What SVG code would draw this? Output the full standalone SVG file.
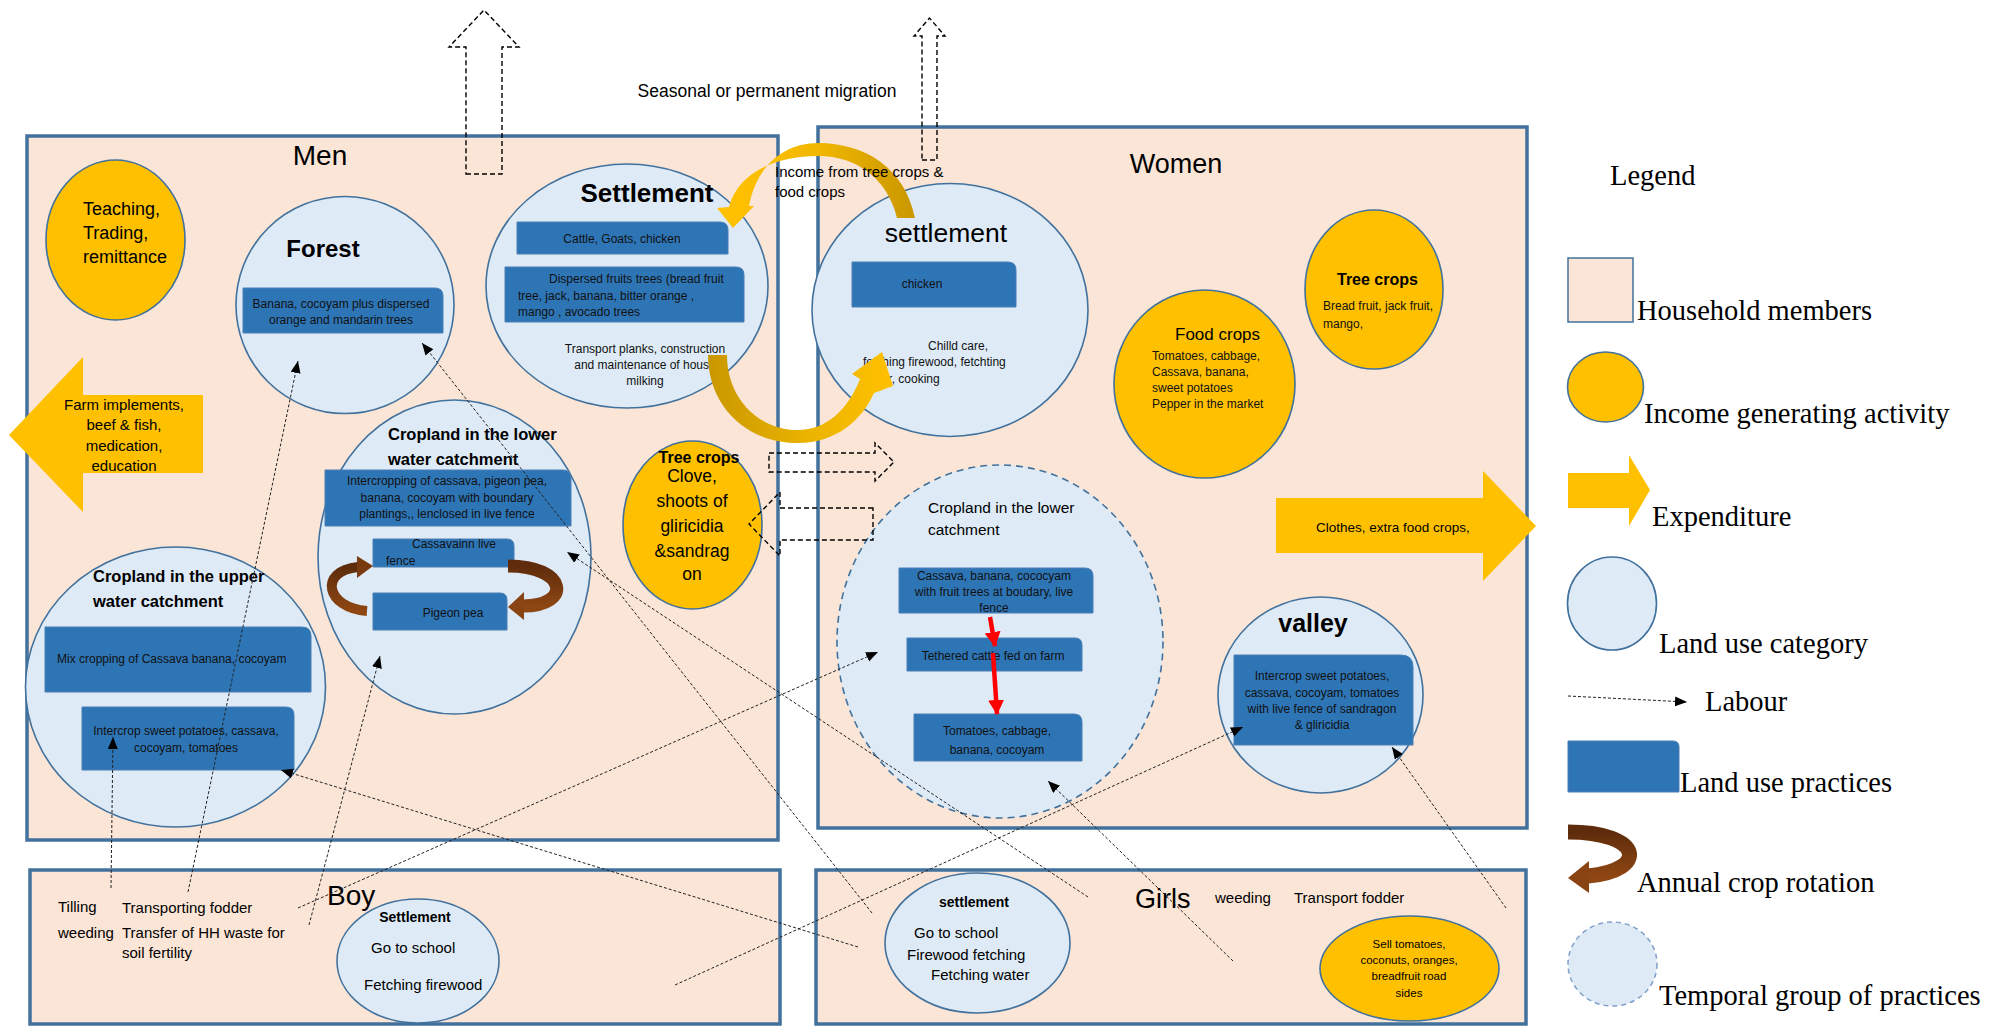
<svg xmlns="http://www.w3.org/2000/svg" width="2013" height="1027" viewBox="0 0 2013 1027">
<defs>
<style>
.box{fill:#FBE5D6;stroke:#41719C;stroke-width:3.5}
.luc{fill:#DEEBF7;stroke:#41719C;stroke-width:1.6}
.tmp{fill:#DEEBF7;stroke:#41719C;stroke-width:1.6;stroke-dasharray:7,5}
.inc{fill:#FFC000;stroke:#41719C;stroke-width:1.6}
.exp{fill:#FFC000}
.pr{fill:#2E75B6;stroke:#4A7FB5;stroke-width:1}
.mig{fill:none;stroke:#000;stroke-width:1.4;stroke-dasharray:5,3}
.lab{fill:none;stroke:#222;stroke-width:1;stroke-dasharray:3,2}
.red{stroke:#FF0000;stroke-width:4.5;fill:none}
text{font-family:"Liberation Sans",Arial,sans-serif;fill:#000}
.s{font-size:12px;fill:#111}
.b{font-weight:bold}
.lg{font-family:"Liberation Serif","Times New Roman",serif;font-size:28.5px}
.m{text-anchor:middle}
</style>
<linearGradient id="goldA" gradientUnits="userSpaceOnUse" x1="733" y1="0" x2="915" y2="0">
<stop offset="0" stop-color="#FFC000"/><stop offset="0.45" stop-color="#F2B800"/><stop offset="1" stop-color="#C99700"/>
</linearGradient>
<linearGradient id="goldB" gradientUnits="userSpaceOnUse" x1="708" y1="0" x2="893" y2="0">
<stop offset="0" stop-color="#C99700"/><stop offset="0.55" stop-color="#EBB400"/><stop offset="1" stop-color="#FFC000"/>
</linearGradient>
<linearGradient id="brown" x1="0" y1="0" x2="0" y2="1">
<stop offset="0" stop-color="#5E2C0C"/><stop offset="1" stop-color="#8E4612"/>
</linearGradient>
<marker id="ah" markerUnits="userSpaceOnUse" markerWidth="14" markerHeight="12" refX="12" refY="5" orient="auto">
<path d="M0,0 L12,5 L0,10 Z" fill="#000"/>
</marker>
<marker id="rh" markerUnits="userSpaceOnUse" markerWidth="18" markerHeight="18" refX="14" refY="8" orient="auto">
<path d="M0,0 L15,8 L0,16 Z" fill="#FF0000"/>
</marker>
</defs>

<rect width="2013" height="1027" fill="#fff"/>

<!-- household boxes -->
<g id="men">
<rect class="box" x="27" y="136" width="751" height="704"/>
<text x="320" y="165" class="m" font-size="28">Men</text>
</g>
<g id="women">
<rect class="box" x="818" y="127" width="709" height="701"/>
<text x="1176" y="173" class="m" font-size="27">Women</text>
</g>
<g id="boy">
<rect class="box" x="30" y="870" width="750" height="154"/>
<text x="327" y="905" font-size="28">Boy</text>
<text x="58" y="912" font-size="15">Tilling</text>
<text x="122" y="913" font-size="15">Transporting fodder</text>
<text x="58" y="938" font-size="15">weeding</text>
<text x="122" y="938" font-size="15">Transfer of HH waste for</text>
<text x="122" y="958" font-size="15">soil fertility</text>
</g>
<g id="girls">
<rect class="box" x="816" y="870" width="710" height="154"/>
<text x="1135" y="908" font-size="27">Girls</text>
<text x="1215" y="903" font-size="15">weeding</text>
<text x="1294" y="903" font-size="15">Transport fodder</text>
</g>

<!-- migration arrows -->
<g id="migration">
<polygon class="mig" points="466,174 502,174 502,47 519,47 484,10 449,47 466,47"/>
<polygon class="mig" points="922,160 937,160 937,36 945,36 929.5,18 914,36 922,36"/>
<text x="767" y="97" class="m" font-size="17.5">Seasonal or permanent migration</text>
</g>

<!-- men nodes -->
<g id="men-income">
<ellipse class="inc" cx="115.5" cy="240" rx="69.5" ry="80"/>
<text x="83" y="215" font-size="18">Teaching,</text>
<text x="83" y="239" font-size="18">Trading,</text>
<text x="83" y="263" font-size="18">remittance</text>
</g>
<g id="men-expenditure">
<polygon class="exp" points="203,395 83,395 83,357 9,435 83,512 83,473 203,473"/>
<text class="m" x="124" y="410" font-size="15">Farm implements,</text>
<text class="m" x="124" y="430" font-size="15">beef &amp; fish,</text>
<text class="m" x="124" y="451" font-size="15">medication,</text>
<text class="m" x="124" y="471" font-size="15">education</text>
</g>
<g id="forest">
<ellipse class="luc" cx="345" cy="305" rx="109" ry="108.5"/>
<text x="323" y="257" class="m b" font-size="24">Forest</text>
<path class="pr" d="M243,288 H435 Q443,288 443,296 V333 H243 Z"/>
<text class="s m" x="341" y="308" font-size="11.5">Banana, cocoyam plus dispersed</text>
<text class="s m" x="341" y="324" font-size="11.5">orange and mandarin  trees</text>
</g>
<g id="men-settlement">
<ellipse class="luc" cx="627" cy="286" rx="141" ry="122"/>
<text x="647" y="202" class="m b" font-size="26">Settlement</text>
<path class="pr" d="M517,222 H720 Q728,222 728,230 V254 H517 Z"/>
<text class="s m" x="622" y="243">Cattle,  Goats, chicken</text>
<path class="pr" d="M505,267 H736 Q744,267 744,275 V322 H505 Z"/>
<text class="s" x="549" y="283">Dispersed fruits trees (bread fruit</text>
<text class="s" x="518" y="300">tree, jack, banana, bitter orange ,</text>
<text class="s" x="518" y="316">mango , avocado trees</text>
<text class="s m" x="645" y="353">Transport planks, construction</text>
<text class="s m" x="645" y="369">and maintenance of house</text>
<text class="s m" x="645" y="385">milking</text>
</g>
<g id="men-lower-cropland">
<ellipse class="luc" cx="454.5" cy="557" rx="136.5" ry="157"/>
<text x="388" y="440" class="b" font-size="16.5">Cropland in the lower</text>
<text x="388" y="465" class="b" font-size="16.5">water catchment</text>
<path class="pr" d="M325,470 H563 Q571,470 571,478 V526 H325 Z"/>
<text class="s m" x="447" y="485" font-size="11.8">Intercropping of cassava, pigeon pea,</text>
<text class="s m" x="447" y="502" font-size="11.8">banana, cocoyam with boundary</text>
<text class="s m" x="447" y="518" font-size="11.8">plantings,, lenclosed in live fence</text>
<path class="pr" d="M373,539 H507 Q514,539 514,546 V567 H373 Z"/>
<text class="s" x="412" y="548">Cassavainn live</text>
<text class="s" x="386" y="565">fence</text>
<path class="pr" d="M373,593 H500 Q507,593 507,600 V630 H373 Z"/>
<text class="s m" x="453" y="617" font-size="12.5">Pigeon pea</text>
<path d="M367,611 C326,608 318,571 358,567" fill="none" stroke="url(#brown)" stroke-width="10"/>
<polygon points="357,556 373,566 357,578" fill="#7A3A0F"/>
<path d="M508,566 C568,566 572,606 523,606" fill="none" stroke="url(#brown)" stroke-width="13"/>
<polygon points="524,592 508,607 524,620" fill="#8A4312"/>
</g>
<g id="men-tree-crops">
<ellipse class="inc" cx="692.5" cy="525" rx="69.5" ry="84"/>
<text x="699" y="463" class="m b" font-size="16">Tree crops</text>
<text x="692" y="482" class="m" font-size="17.5">Clove,</text>
<text x="692" y="507" class="m" font-size="17.5">shoots of</text>
<text x="692" y="532" class="m" font-size="17.5">gliricidia</text>
<text x="692" y="557" class="m" font-size="17.5">&amp;sandrag</text>
<text x="692" y="580" class="m" font-size="17.5">on</text>
</g>
<g id="men-upper-cropland">
<ellipse class="luc" cx="175.5" cy="687" rx="150" ry="140"/>
<text x="93" y="582" class="b" font-size="16.5">Cropland in the upper</text>
<text x="93" y="607" class="b" font-size="16.5">water catchment</text>
<path class="pr" d="M45,627 H302 Q311,627 311,636 V692 H45 Z"/>
<text class="s" x="57" y="663">Mix cropping of Cassava banana,  cocoyam</text>
<path class="pr" d="M82,707 H286 Q294,707 294,715 V770 H82 Z"/>
<text class="s m" x="186" y="735">Intercrop sweet potatoes, cassava,</text>
<text class="s m" x="186" y="752">cocoyam, tomatoes</text>
</g>

<!-- women nodes -->
<g id="women-settlement">
<ellipse class="luc" cx="950" cy="310" rx="138" ry="126.5"/>
<text x="946" y="242" class="m" font-size="26.5">settlement</text>
<path class="pr" d="M852,262 H1008 Q1016,262 1016,270 V307 H852 Z"/>
<text class="s m" x="922" y="288">chicken</text>
<text class="s" x="928" y="350">Chilld care,</text>
<text class="s" x="863" y="366">fetching firewood, fetchting</text>
<text class="s" x="863" y="383">water, cooking</text>
</g>
<g id="women-food-crops">
<ellipse class="inc" cx="1204.5" cy="384" rx="90.5" ry="94"/>
<text x="1175" y="340" font-size="17">Food crops</text>
<text class="s" x="1152" y="360">Tomatoes, cabbage,</text>
<text class="s" x="1152" y="376">Cassava, banana,</text>
<text class="s" x="1152" y="392">sweet potatoes</text>
<text class="s" x="1152" y="408">Pepper  in the market</text>
</g>
<g id="women-tree-crops">
<ellipse class="inc" cx="1374" cy="289.5" rx="69" ry="79.5"/>
<text x="1337" y="285" class="b" font-size="16">Tree crops</text>
<text class="s" x="1323" y="310">Bread fruit, jack fruit,</text>
<text class="s" x="1323" y="328">mango,</text>
</g>
<g id="women-expenditure">
<polygon class="exp" points="1276,498 1483,498 1483,471 1536,526 1483,581 1483,553 1276,553"/>
<text x="1316" y="532" font-size="13.5">Clothes, extra food crops,</text>
</g>
<g id="women-lower-cropland">
<ellipse class="tmp" cx="1000" cy="641.5" rx="163" ry="176.5"/>
<text x="928" y="513" font-size="15.5">Cropland in the lower</text>
<text x="928" y="535" font-size="15.5">catchment</text>
<path class="pr" d="M899,568 H1085 Q1093,568 1093,576 V613 H899 Z"/>
<text class="s m" x="994" y="580" font-size="11.5">Cassava, banana, cococyam</text>
<text class="s m" x="994" y="596" font-size="11.5">with fruit trees at boudary, live</text>
<text class="s m" x="994" y="612" font-size="11.5">fence</text>
<path class="pr" d="M907,638 H1075 Q1082,638 1082,645 V671 H907 Z"/>
<text class="s m" x="993" y="660">Tethered cattle fed on farm</text>
<path class="pr" d="M914,714 H1074 Q1082,714 1082,722 V761 H914 Z"/>
<text class="s m" x="997" y="735">Tomatoes, cabbage,</text>
<text class="s m" x="997" y="754">banana, cocoyam</text>
<line class="red" x1="990" y1="617" x2="995" y2="646" marker-end="url(#rh)"/>
<line class="red" x1="993" y1="653" x2="997" y2="714" marker-end="url(#rh)"/>
</g>
<g id="valley">
<ellipse class="luc" cx="1320.5" cy="695" rx="102.5" ry="98"/>
<text x="1313" y="632" class="m b" font-size="25">valley</text>
<path class="pr" d="M1234,655 H1401 Q1413,655 1413,667 V745 H1234 Z"/>
<text class="s m" x="1322" y="680" font-size="11.5">Intercrop sweet potatoes,</text>
<text class="s m" x="1322" y="697" font-size="11.5">cassava, cocoyam, tomatoes</text>
<text class="s m" x="1322" y="713" font-size="11.5">with live fence of sandragon</text>
<text class="s m" x="1322" y="729" font-size="11.5">&amp; gliricidia</text>
</g>

<!-- children nodes -->
<g id="boy-settlement">
<ellipse class="luc" cx="418" cy="961" rx="81" ry="62"/>
<text x="415" y="922" class="m b" font-size="14">Settlement</text>
<text x="371" y="953" font-size="15">Go to school</text>
<text x="364" y="990" font-size="15">Fetching firewood</text>
</g>
<g id="girls-settlement">
<ellipse class="luc" cx="977.5" cy="943" rx="92.5" ry="70"/>
<text x="974" y="907" class="m b" font-size="14">settlement</text>
<text x="914" y="938" font-size="15">Go to school</text>
<text x="907" y="960" font-size="15">Firewood fetching</text>
<text x="931" y="980" font-size="15">Fetching water</text>
</g>
<g id="girls-income">
<ellipse class="inc" cx="1409.5" cy="968.5" rx="89.5" ry="52.5"/>
<text class="m" x="1409" y="948" font-size="11.5">Sell tomatoes,</text>
<text class="m" x="1409" y="964" font-size="11.5">coconuts, oranges,</text>
<text class="m" x="1409" y="980" font-size="11.5">breadfruit road</text>
<text class="m" x="1409" y="997" font-size="11.5">sides</text>
</g>

<!-- connectors -->
<g id="connectors">
<path d="M915,218 C905,168 865,143 818,143 C782,143 756,168 749,206 L754,206 L733,228 L717,208 L729,207 C738,173 775,156 818,156 C858,156 888,180 897,218 Z" fill="url(#goldA)"/>
<text x="775" y="177" font-size="15">Income from tree crops &amp;</text>
<text x="775" y="197" font-size="15">food crops</text>
<path d="M708,355 C708,405 745,443 798,443 C836,443 862,420 874,393 L893,386 L882,352 L852,374 L860,379 C848,410 826,430 798,430 C760,430 727,400 727,355 Z" fill="url(#goldB)"/>
<polygon class="mig" points="769,453 875,453 875,443 894,462 875,481 875,472 769,472"/>
<polygon class="mig" points="873,508 780,508 780,492 749,524 780,556 780,540 873,540"/>
<line class="lab" x1="111" y1="888" x2="113" y2="737" marker-end="url(#ah)"/>
<line class="lab" x1="188" y1="892" x2="298" y2="361" marker-end="url(#ah)"/>
<line class="lab" x1="309" y1="925" x2="380" y2="656" marker-end="url(#ah)"/>
<line class="lab" x1="298" y1="908" x2="878" y2="652" marker-end="url(#ah)"/>
<line class="lab" x1="675" y1="985" x2="1243" y2="727" marker-end="url(#ah)"/>
<line class="lab" x1="858" y1="947" x2="281" y2="770" marker-end="url(#ah)"/>
<line class="lab" x1="872" y1="913" x2="422" y2="343" marker-end="url(#ah)"/>
<line class="lab" x1="1088" y1="897" x2="567" y2="552" marker-end="url(#ah)"/>
<line class="lab" x1="1233" y1="961" x2="1048" y2="781" marker-end="url(#ah)"/>
<line class="lab" x1="1506" y1="908" x2="1392" y2="747" marker-end="url(#ah)"/>
</g>

<!-- legend -->
<g id="legend">
<text x="1610" y="185" class="lg" font-size="25">Legend</text>
<rect x="1568" y="258" width="65" height="64" fill="#FBE5D6" stroke="#41719C" stroke-width="1.5"/>
<text x="1637" y="320" class="lg">Household members</text>
<ellipse class="inc" cx="1605.5" cy="387" rx="38" ry="35"/>
<text x="1644" y="423" class="lg">Income generating activity</text>
<polygon class="exp" points="1568,473 1629,473 1629,455 1650,490 1629,526 1629,508 1568,508"/>
<text x="1652" y="526" class="lg">Expenditure</text>
<ellipse class="luc" cx="1612" cy="603.5" rx="44.5" ry="46.5"/>
<text x="1659" y="653" class="lg">Land use category</text>
<line class="lab" x1="1568" y1="696" x2="1687" y2="702" marker-end="url(#ah)"/>
<text x="1705" y="711" class="lg">Labour</text>
<path class="pr" d="M1568,741 H1673 Q1679,741 1679,747 V792 H1568 Z"/>
<text x="1680" y="792" class="lg">Land use practices</text>
<path d="M1568,832 C1642,832 1650,870 1588,876" fill="none" stroke="url(#brown)" stroke-width="15"/>
<polygon points="1589,861 1568,878 1589,893" fill="#8A4312"/>
<text x="1637" y="892" class="lg">Annual crop rotation</text>
<ellipse cx="1612.5" cy="964" rx="44.5" ry="42" fill="#DEEBF7" stroke="#7F9FC8" stroke-width="1.5" stroke-dasharray="5,4"/>
<text x="1659" y="1005" class="lg">Temporal group of practices</text>
</g>
</svg>
